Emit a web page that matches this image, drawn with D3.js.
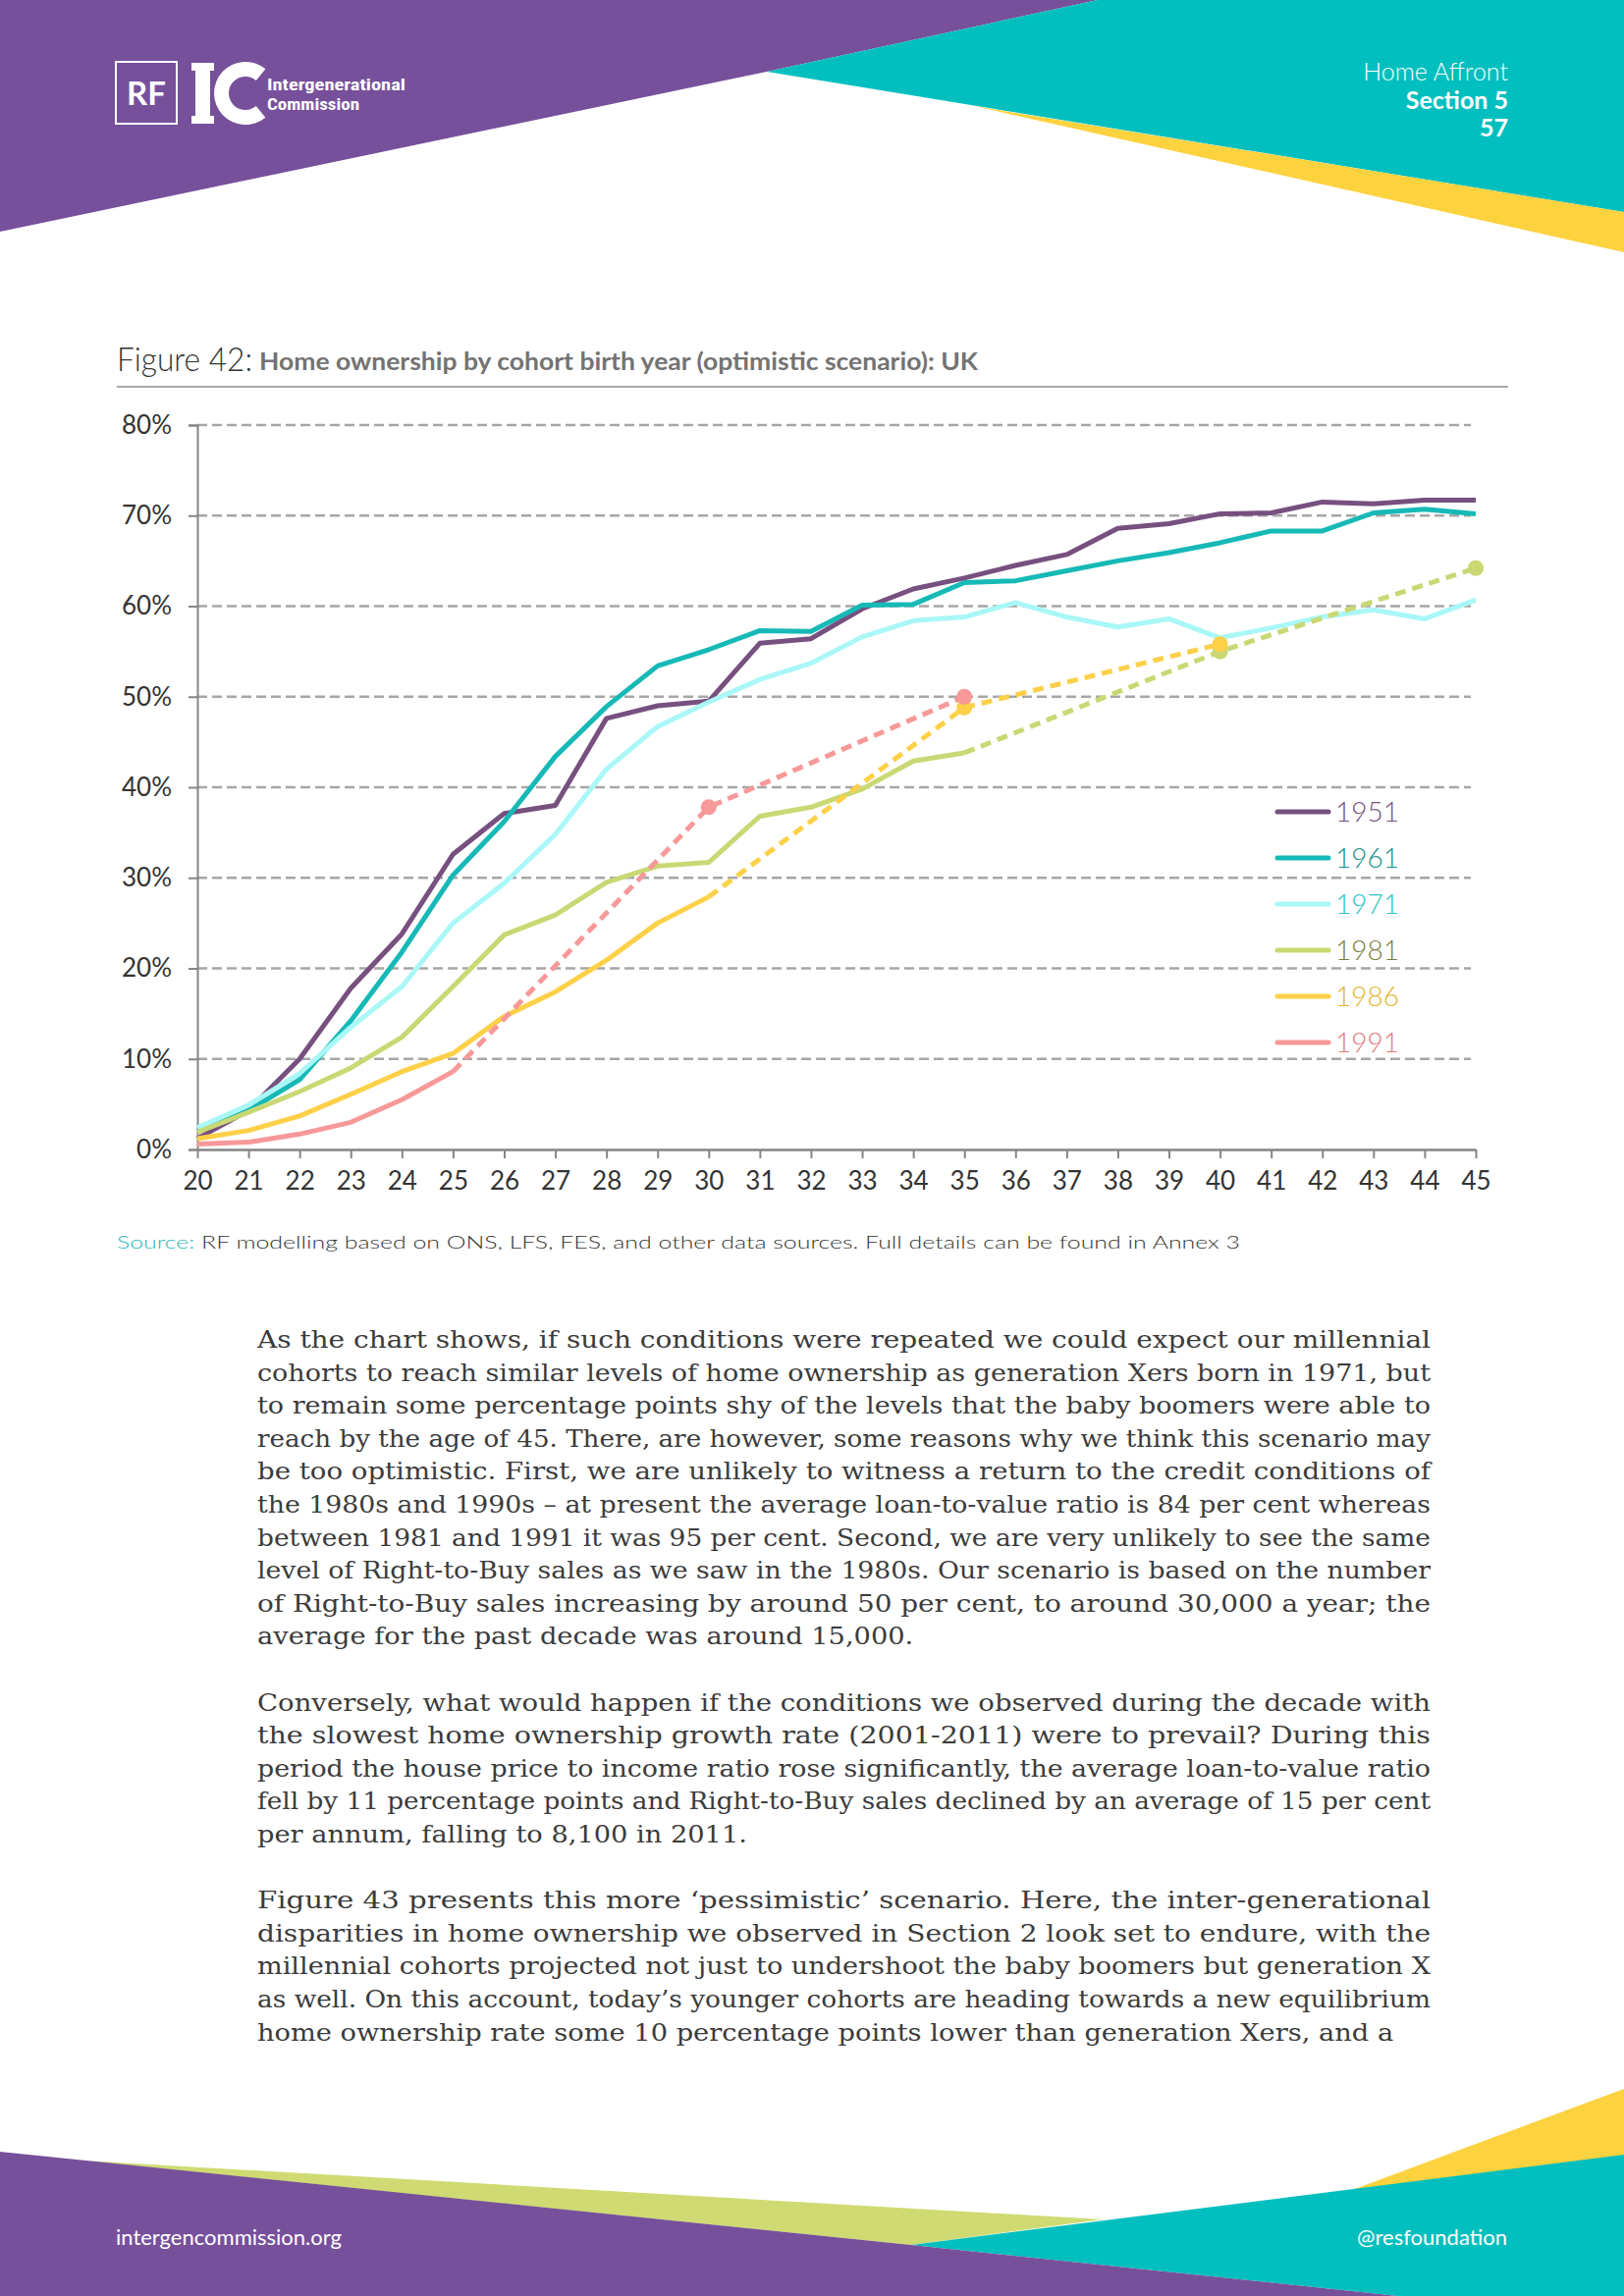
<!DOCTYPE html>
<html><head><meta charset="utf-8">
<script src="https://cdn.jsdelivr.net/npm/d3@7"></script>
<style>body{margin:0;background:#fff}svg{display:block}</style>
</head><body>
<svg id="page" width="1654" height="2339"></svg>
<script>
// ---------- data ----------
const ageTicks = [20,21,22,23,24,25,26,27,28,29,30,31,32,33,34,35,36,37,38,39,40,41,42,43,44,45];
const yTicks = [0,10,20,30,40,50,60,70,80];
const cohorts = ["1951","1961","1971","1981","1986","1991"];
const lineColors = ["#77507f","#16b9b6","#a9f7f7","#cad874","#fdd048","#f79899"];
const labelColors = ["#77507f","#17908e","#2fc4c4","#7c7d3a","#e1b52a","#e27a7c"];

// observed (ages from 20)
const v1951 = [1.2,4.3,10.0,17.8,23.8,32.6,37.1,38.0,47.6,49.0,49.5,55.9,56.4,59.7,61.9,63.1,64.5,65.7,68.6,69.1,70.2,70.3,71.5,71.3,71.7,71.7];
const v1961 = [2.0,4.3,7.7,14.2,21.8,30.3,36.2,43.4,48.9,53.4,55.2,57.3,57.2,60.1,60.2,62.6,62.8,63.9,65.0,65.9,67.0,68.3,68.3,70.3,70.7,70.2];
const v1971 = [2.4,4.9,8.4,13.5,18.0,25.0,29.4,34.8,42.0,46.7,49.4,51.9,53.7,56.6,58.4,58.8,60.4,58.8,57.7,58.6,56.5,57.6,58.8,59.6,58.6,60.7];
const v1981 = [1.9,4.1,6.4,9.0,12.4,18.0,23.7,25.9,29.5,31.3,31.7,36.8,37.8,39.8,42.9,43.8];
const v1986 = [1.2,2.1,3.7,6.1,8.6,10.6,14.7,17.4,20.9,25.0,27.9];
const v1991 = [0.6,0.8,1.7,3.0,5.5,8.6];

// projections (dashed, markers at projected points)
const p1981Ages = [35,40,45]; const p1981 = [43.8,55.0,64.2];
const p1986Ages = [30,35,40]; const p1986 = [27.9,48.8,55.8];
const p1991Ages = [25,30,35]; const p1991 = [8.6,37.8,50.0];

const observed = [v1951,v1961,v1971,v1981,v1986,v1991];
const projAges = [null,null,null,p1981Ages,p1986Ages,p1991Ages];
const projVals = [null,null,null,p1981,p1986,p1991];

const bodyParas = [
 ["As the chart shows, if such conditions were repeated we could expect our millennial",
  "cohorts to reach similar levels of home ownership as generation Xers born in 1971, but",
  "to remain some percentage points shy of the levels that the baby boomers were able to",
  "reach by the age of 45. There, are however, some reasons why we think this scenario may",
  "be too optimistic. First, we are unlikely to witness a return to the credit conditions of",
  "the 1980s and 1990s \u2013 at present the average loan-to-value ratio is 84 per cent whereas",
  "between 1981 and 1991 it was 95 per cent. Second, we are very unlikely to see the same",
  "level of Right-to-Buy sales as we saw in the 1980s. Our scenario is based on the number",
  "of Right-to-Buy sales increasing by around 50 per cent, to around 30,000 a year; the",
  "average for the past decade was around 15,000."],
 ["Conversely, what would happen if the conditions we observed during the decade with",
  "the slowest home ownership growth rate (2001-2011) were to prevail? During this",
  "period the house price to income ratio rose significantly, the average loan-to-value ratio",
  "fell by 11 percentage points and Right-to-Buy sales declined by an average of 15 per cent",
  "per annum, falling to 8,100 in 2011."],
 ["Figure 43 presents this more \u2018pessimistic\u2019 scenario. Here, the inter-generational",
  "disparities in home ownership we observed in Section 2 look set to endure, with the",
  "millennial cohorts projected not just to undershoot the baby boomers but generation X",
  "as well. On this account, today\u2019s younger cohorts are heading towards a new equilibrium",
  "home ownership rate some 10 percentage points lower than generation Xers, and a"]
];

// ---------- drawing ----------
const svg = d3.select("#page");
const SANS = "Lato, 'Open Sans', 'DejaVu Sans', sans-serif";

// header shapes
const PURPLE = "#77509b", TEAL = "#00bfbe", YELLOW = "#fdd23f", GREEN = "#cfdb72";
const poly = (pts, fill) => svg.append("polygon").attr("points", pts.map(p=>p.join(",")).join(" ")).attr("fill", fill);
poly([[0,0],[1118,0],[781,73],[0,236]], PURPLE);
poly([[781,73],[1118,0],[1654,0],[1654,216]], TEAL);
poly([[992,108],[1654,216],[1654,257]], YELLOW);

// footer shapes
poly([[84,2201],[1123,2261],[928,2287]], GREEN);
poly([[1377,2231],[1654,2128],[1654,2197]], YELLOW);
poly([[928,2287],[1654,2195],[1654,2339],[1424,2339]], TEAL);
poly([[0,2192],[928,2287],[1424,2339],[0,2339]], PURPLE);

// logos
svg.append("rect").attr("x",118).attr("y",63).attr("width",62).attr("height",63)
  .attr("fill","none").attr("stroke","#fff").attr("stroke-width",2);
svg.append("text").attr("x",149).attr("y",107).attr("text-anchor","middle")
  .attr("font-family",SANS).attr("font-weight",700).attr("font-size",33).attr("fill","#fff").text("RF");
svg.append("rect").attr("x",199).attr("y",64).attr("width",15).attr("height",62).attr("fill","#fff");
svg.append("rect").attr("x",195).attr("y",64).attr("width",23).attr("height",8).attr("fill","#fff");
svg.append("rect").attr("x",195).attr("y",118).attr("width",23).attr("height",8).attr("fill","#fff");
svg.append("path").attr("transform","translate(250,95)")
  .attr("d", d3.arc().innerRadius(17).outerRadius(32).startAngle(0.78*Math.PI).endAngle(2.22*Math.PI)())
  .attr("fill","#fff");
svg.append("text").attr("x",272).attr("y",92).attr("font-family","'Roboto Condensed', Roboto, sans-serif")
  .attr("font-weight",700).attr("font-size",17).attr("fill","#fff").attr("textLength",141).attr("lengthAdjust","spacingAndGlyphs").text("Intergenerational");
svg.append("text").attr("x",272).attr("y",112).attr("font-family","'Roboto Condensed', Roboto, sans-serif")
  .attr("font-weight",700).attr("font-size",17).attr("fill","#fff").attr("textLength",94).attr("lengthAdjust","spacingAndGlyphs").text("Commission");

// header right text
const hr = [["Home Affront",82,300],["Section 5",111,700],["57",139,700]];
hr.forEach(h => svg.append("text").attr("x",1536).attr("y",h[1]).attr("text-anchor","end")
  .attr("font-family",SANS).attr("font-weight",h[2]).attr("font-size",25).attr("fill","#fff").text(h[0]));

// footer texts
svg.append("text").attr("x",118).attr("y",2287).attr("font-family",SANS).attr("font-size",22).attr("fill","#fff").text("intergencommission.org");
svg.append("text").attr("x",1535).attr("y",2287).attr("text-anchor","end").attr("font-family",SANS).attr("font-size",22).attr("fill","#fff").text("@resfoundation");

// title
svg.append("text").attr("x",119).attr("y",378).attr("font-family",SANS).attr("font-weight",300)
  .attr("font-size",34).attr("fill","#333").attr("textLength",138).attr("lengthAdjust","spacingAndGlyphs").text("Figure 42:");
svg.append("text").attr("x",264).attr("y",377).attr("font-family",SANS).attr("font-weight",700)
  .attr("font-size",24).attr("fill","#737373").attr("textLength",732).attr("lengthAdjust","spacingAndGlyphs")
  .text("Home ownership by cohort birth year (optimistic scenario): UK");
svg.append("line").attr("x1",119).attr("x2",1536).attr("y1",394).attr("y2",394).attr("stroke","#8c8c8c").attr("stroke-width",1.5);

// chart
const x = d3.scaleLinear().domain([20,45]).range([201,1503]);
const y = d3.scaleLinear().domain([0,80]).range([1171,433]);
const g = svg.append("g");

// gridlines
g.selectAll("line.grid").data(yTicks.filter(d=>d>0)).join("line")
  .attr("x1",x(20)).attr("x2",1498).attr("y1",d=>y(d)).attr("y2",d=>y(d))
  .attr("stroke","#a6a6a6").attr("stroke-width",2.6).attr("stroke-dasharray","10,5");

// y axis
const ya = g.append("g").attr("transform",`translate(${x(20)},0)`)
  .call(d3.axisLeft(y).tickValues(yTicks).tickFormat(d=>d+"%").tickSize(9).tickPadding(17));
ya.select(".domain").attr("stroke","#858585").attr("stroke-width",2);
ya.selectAll(".tick line").attr("stroke","#858585").attr("stroke-width",2);
ya.selectAll(".tick text").attr("font-family",SANS).attr("font-size",26).attr("fill","#333");

// x axis
const xa = g.append("g").attr("transform",`translate(0,${y(0)})`)
  .call(d3.axisBottom(x).tickValues(ageTicks).tickFormat(d=>d).tickSize(9).tickSizeOuter(0));
xa.select(".domain").attr("stroke","#858585").attr("stroke-width",2.4);
xa.selectAll(".tick line").attr("stroke","#858585").attr("stroke-width",2);
xa.selectAll(".tick text").attr("font-family",SANS).attr("font-size",26).attr("fill","#333")
  .attr("y",41).attr("dy",null);

// series
const line = d3.line().x(d=>x(d[0])).y(d=>y(d[1]));
cohorts.forEach((c,i) => {
  const obs = observed[i].map((v,k)=>[ageTicks[k],v]);
  if (projAges[i]) {
    const pr = projAges[i].map((a,k)=>[a,projVals[i][k]]);
    g.append("path").datum(pr).attr("d",line).attr("fill","none").attr("stroke",lineColors[i])
      .attr("stroke-width",5).attr("stroke-dasharray","11,7");
  }
  g.append("path").datum(obs).attr("d",line).attr("fill","none").attr("stroke",lineColors[i])
    .attr("stroke-width",5).attr("stroke-linejoin","round");
});
cohorts.forEach((c,i) => {
  if (!projAges[i]) return;
  const pts = projAges[i].map((a,k)=>[a,projVals[i][k]]).slice(1);
  g.selectAll(null).data(pts).join("circle").attr("cx",d=>x(d[0])).attr("cy",d=>y(d[1]))
    .attr("r",8).attr("fill",lineColors[i]);
});

// legend
const legendY = [827,874,921,968,1015,1062];
cohorts.forEach((c,i) => {
  g.append("line").attr("x1",1301).attr("x2",1353).attr("y1",legendY[i]).attr("y2",legendY[i])
    .attr("stroke",lineColors[i]).attr("stroke-width",5).attr("stroke-linecap","round");
  g.append("text").attr("x",1360).attr("y",legendY[i]+10).attr("font-family",SANS).attr("font-weight",300)
    .attr("font-size",28).attr("fill",labelColors[i]).text(c);
});

// source
const src = svg.append("text").attr("x",119).attr("y",1272).attr("font-family",SANS).attr("font-weight",300)
  .attr("font-size",17).attr("fill","#333")
  .attr("textLength",1144).attr("lengthAdjust","spacingAndGlyphs");
src.append("tspan").attr("fill","#2bb6b6").text("Source: ");
src.append("tspan").text("RF modelling based on ONS, LFS, FES, and other data sources. Full details can be found in Annex 3");

// body text (justified; last line of each paragraph uses the average stretch)
const LX = 262, RX = 1457, LH = 33.6;
let lineIdx = 0;
const bodyNodes = [];
bodyParas.forEach((p) => {
  p.forEach((t,li) => {
    const tx = svg.append("text").attr("x",LX).attr("y",1373 + lineIdx*LH)
      .attr("font-family","'DejaVu Serif Condensed', 'DejaVu Serif', serif").attr("font-stretch","condensed")
      .attr("font-size",25).attr("fill","#3b3b3b").text(t);
    bodyNodes.push({tx, last: li === p.length - 1, w: tx.node().getComputedTextLength()});
    lineIdx++;
  });
  lineIdx++;
});
const full = bodyNodes.filter(b=>!b.last);
const avgStretch = d3.mean(full, b => (RX-LX)/b.w);
bodyNodes.forEach(b => {
  const target = b.last ? b.w*avgStretch : (RX-LX);
  b.tx.attr("textLength", target).attr("lengthAdjust","spacingAndGlyphs");
});
</script>
</body></html>
